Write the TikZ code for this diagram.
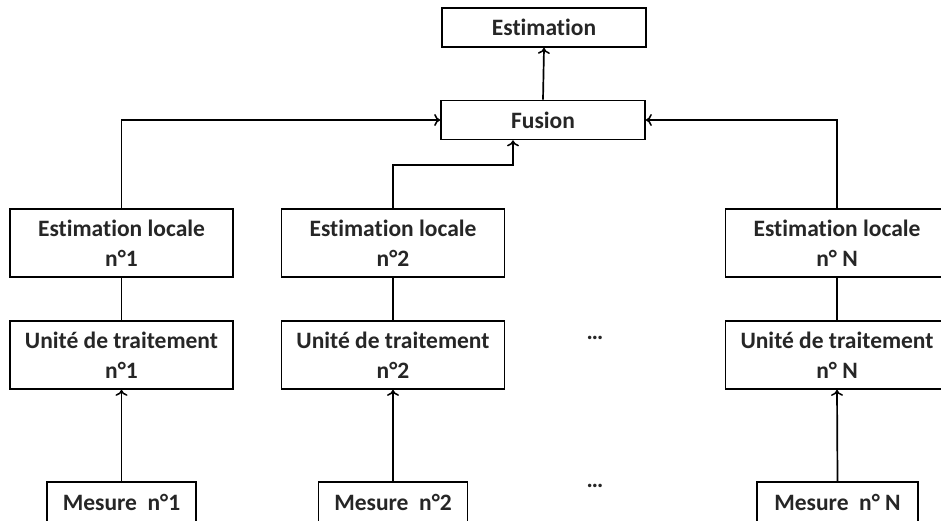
\documentclass[tikz,border=0pt]{standalone}
\usepackage{fontspec}
\setmainfont{Carlito}[Ligatures={NoCommon}]
\usetikzlibrary{arrows.meta}
\definecolor{txt}{RGB}{38,38,38}
\tikzset{
  box/.style={draw=black, line width=1.7pt, fill=white, inner sep=0pt, align=center,
    text=txt, font=\bfseries\fontsize{23.5}{30}\selectfont},
  wide/.style={box, minimum width=223pt, minimum height=68pt},
  small/.style={box, minimum width=204pt, minimum height=39pt},
  meas/.style={box, minimum width=149pt, minimum height=40pt},
  conn/.style={line width=1.7pt, draw=black},
  arr/.style={conn, -{To[length=6pt,width=12pt,line width=1.5pt]}},
  dots/.style={text=txt, font=\bfseries\fontsize{23.5}{30}\selectfont, inner sep=0pt}
}
\begin{document}
\begin{tikzpicture}[x=1pt,y=-1pt]
\useasboundingbox (0,0) rectangle (941,520);
\node[small] (est) at (544,27.5) {Estimation};
\node[small] (fus) at (543,120) {Fusion};
\node[wide] (el1) at (121.5,243) {Estimation locale\\n°1};
\node[wide] (el2) at (393,243) {Estimation locale\\n°2};
\node[wide] (elN) at (837,243) {Estimation locale\\n° N};
\node[wide] (ut1) at (121.5,355) {Unité de traitement\\n°1};
\node[wide] (ut2) at (393,355) {Unité de traitement\\n°2};
\node[wide] (utN) at (837,355) {Unité de traitement\\n° N};
\node[meas] (m1) at (121.5,502) {Mesure\ \ n°1};
\node[meas] (m2) at (393,502) {Mesure\ \ n°2};
\node[meas, minimum width=161pt] (mN) at (837.5,502) {Mesure\ \ n° N};
\node[dots] (d1) at (595,338) {…};
\node[dots] (d2) at (595,486) {…};
\coordinate (k2) at (513,165);
\draw[arr] (fus.north) -- (est.south);
\draw[arr] (el1.north) |- (fus.west);
\draw[arr] (elN.north) |- (fus.east);
\draw[arr] (el2.north) |- (k2) -- (k2 |- fus.south);
\draw[conn] (el1.south) -- (ut1.north);
\draw[conn] (el2.south) -- (ut2.north);
\draw[conn] (elN.south) -- (utN.north);
\draw[arr] (m1.north) -- (ut1.south);
\draw[arr] (m2.north) -- (ut2.south);
\draw[arr] (mN.north) -- (utN.south);
\end{tikzpicture}
\end{document}
